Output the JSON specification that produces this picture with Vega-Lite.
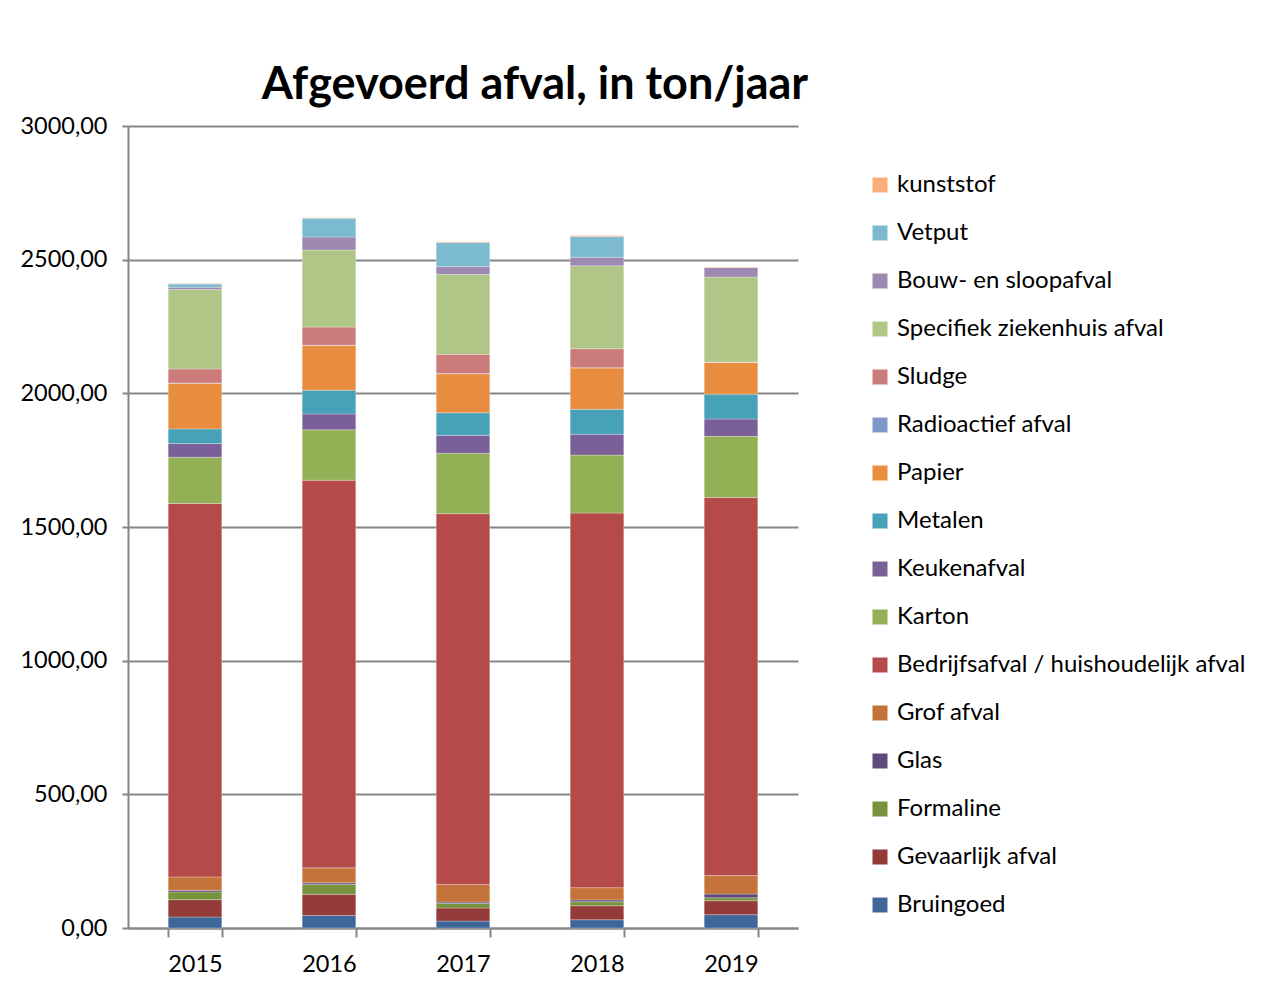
{
  "$schema": "https://vega.github.io/schema/vega-lite/v6.json",
  "width": 670,
  "height": 802,
  "autosize": {"type": "none"},
  "padding": {"left": 128, "top": 126, "right": 484, "bottom": 71},
  "background": "white",
  "config": {
    "locale": {"number": {"decimal": ",", "thousands": ".", "grouping": [3], "currency": ["€", ""]}},
    "font": "Lato",
    "view": {"stroke": null},
    "axis": {"labelFont": "Lato", "labelFontSize": 23.5, "labelColor": "#000000", "domainColor": "#868686", "tickColor": "#868686", "gridColor": "#868686", "domainWidth": 2, "tickWidth": 2, "gridWidth": 2}
  },
  "title": {
    "text": "Afgevoerd afval, in ton/jaar",
    "font": "Lato",
    "fontSize": 45,
    "fontWeight": "bold",
    "color": "#000000",
    "anchor": "middle",
    "frame": "group",
    "dx": 72,
    "offset": 6
  },
  "data": {
    "values": [
      {"jaar": "2015", "soort": "Bruingoed", "idx": 0, "ton": 41},
      {"jaar": "2015", "soort": "Gevaarlijk afval", "idx": 1, "ton": 65},
      {"jaar": "2015", "soort": "Formaline", "idx": 2, "ton": 29},
      {"jaar": "2015", "soort": "Glas", "idx": 3, "ton": 6},
      {"jaar": "2015", "soort": "Grof afval", "idx": 4, "ton": 50},
      {"jaar": "2015", "soort": "Bedrijfsafval / huishoudelijk afval", "idx": 5, "ton": 1397},
      {"jaar": "2015", "soort": "Karton", "idx": 6, "ton": 173},
      {"jaar": "2015", "soort": "Keukenafval", "idx": 7, "ton": 51},
      {"jaar": "2015", "soort": "Metalen", "idx": 8, "ton": 55},
      {"jaar": "2015", "soort": "Papier", "idx": 9, "ton": 171},
      {"jaar": "2015", "soort": "Radioactief afval", "idx": 10, "ton": 1},
      {"jaar": "2015", "soort": "Sludge", "idx": 11, "ton": 52},
      {"jaar": "2015", "soort": "Specifiek ziekenhuis afval", "idx": 12, "ton": 297},
      {"jaar": "2015", "soort": "Bouw- en sloopafval", "idx": 13, "ton": 9},
      {"jaar": "2015", "soort": "Vetput", "idx": 14, "ton": 12},
      {"jaar": "2015", "soort": "kunststof", "idx": 15, "ton": 2},

      {"jaar": "2016", "soort": "Bruingoed", "idx": 0, "ton": 47},
      {"jaar": "2016", "soort": "Gevaarlijk afval", "idx": 1, "ton": 79},
      {"jaar": "2016", "soort": "Formaline", "idx": 2, "ton": 37},
      {"jaar": "2016", "soort": "Glas", "idx": 3, "ton": 6},
      {"jaar": "2016", "soort": "Grof afval", "idx": 4, "ton": 56},
      {"jaar": "2016", "soort": "Bedrijfsafval / huishoudelijk afval", "idx": 5, "ton": 1450},
      {"jaar": "2016", "soort": "Karton", "idx": 6, "ton": 189},
      {"jaar": "2016", "soort": "Keukenafval", "idx": 7, "ton": 59},
      {"jaar": "2016", "soort": "Metalen", "idx": 8, "ton": 89},
      {"jaar": "2016", "soort": "Papier", "idx": 9, "ton": 167},
      {"jaar": "2016", "soort": "Radioactief afval", "idx": 10, "ton": 1},
      {"jaar": "2016", "soort": "Sludge", "idx": 11, "ton": 68},
      {"jaar": "2016", "soort": "Specifiek ziekenhuis afval", "idx": 12, "ton": 288},
      {"jaar": "2016", "soort": "Bouw- en sloopafval", "idx": 13, "ton": 49},
      {"jaar": "2016", "soort": "Vetput", "idx": 14, "ton": 70},
      {"jaar": "2016", "soort": "kunststof", "idx": 15, "ton": 2},

      {"jaar": "2017", "soort": "Bruingoed", "idx": 0, "ton": 26},
      {"jaar": "2017", "soort": "Gevaarlijk afval", "idx": 1, "ton": 49},
      {"jaar": "2017", "soort": "Formaline", "idx": 2, "ton": 17},
      {"jaar": "2017", "soort": "Glas", "idx": 3, "ton": 5},
      {"jaar": "2017", "soort": "Grof afval", "idx": 4, "ton": 66},
      {"jaar": "2017", "soort": "Bedrijfsafval / huishoudelijk afval", "idx": 5, "ton": 1387},
      {"jaar": "2017", "soort": "Karton", "idx": 6, "ton": 226},
      {"jaar": "2017", "soort": "Keukenafval", "idx": 7, "ton": 67},
      {"jaar": "2017", "soort": "Metalen", "idx": 8, "ton": 84},
      {"jaar": "2017", "soort": "Papier", "idx": 9, "ton": 146},
      {"jaar": "2017", "soort": "Radioactief afval", "idx": 10, "ton": 1},
      {"jaar": "2017", "soort": "Sludge", "idx": 11, "ton": 72},
      {"jaar": "2017", "soort": "Specifiek ziekenhuis afval", "idx": 12, "ton": 299},
      {"jaar": "2017", "soort": "Bouw- en sloopafval", "idx": 13, "ton": 29},
      {"jaar": "2017", "soort": "Vetput", "idx": 14, "ton": 90},
      {"jaar": "2017", "soort": "kunststof", "idx": 15, "ton": 3},

      {"jaar": "2018", "soort": "Bruingoed", "idx": 0, "ton": 31},
      {"jaar": "2018", "soort": "Gevaarlijk afval", "idx": 1, "ton": 52},
      {"jaar": "2018", "soort": "Formaline", "idx": 2, "ton": 15},
      {"jaar": "2018", "soort": "Glas", "idx": 3, "ton": 7},
      {"jaar": "2018", "soort": "Grof afval", "idx": 4, "ton": 46},
      {"jaar": "2018", "soort": "Bedrijfsafval / huishoudelijk afval", "idx": 5, "ton": 1401},
      {"jaar": "2018", "soort": "Karton", "idx": 6, "ton": 217},
      {"jaar": "2018", "soort": "Keukenafval", "idx": 7, "ton": 78},
      {"jaar": "2018", "soort": "Metalen", "idx": 8, "ton": 93},
      {"jaar": "2018", "soort": "Papier", "idx": 9, "ton": 155},
      {"jaar": "2018", "soort": "Radioactief afval", "idx": 10, "ton": 1},
      {"jaar": "2018", "soort": "Sludge", "idx": 11, "ton": 71},
      {"jaar": "2018", "soort": "Specifiek ziekenhuis afval", "idx": 12, "ton": 310},
      {"jaar": "2018", "soort": "Bouw- en sloopafval", "idx": 13, "ton": 32},
      {"jaar": "2018", "soort": "Vetput", "idx": 14, "ton": 78},
      {"jaar": "2018", "soort": "kunststof", "idx": 15, "ton": 3},

      {"jaar": "2019", "soort": "Bruingoed", "idx": 0, "ton": 50},
      {"jaar": "2019", "soort": "Gevaarlijk afval", "idx": 1, "ton": 52},
      {"jaar": "2019", "soort": "Formaline", "idx": 2, "ton": 11},
      {"jaar": "2019", "soort": "Glas", "idx": 3, "ton": 14},
      {"jaar": "2019", "soort": "Grof afval", "idx": 4, "ton": 69},
      {"jaar": "2019", "soort": "Bedrijfsafval / huishoudelijk afval", "idx": 5, "ton": 1414},
      {"jaar": "2019", "soort": "Karton", "idx": 6, "ton": 229},
      {"jaar": "2019", "soort": "Keukenafval", "idx": 7, "ton": 65},
      {"jaar": "2019", "soort": "Metalen", "idx": 8, "ton": 93},
      {"jaar": "2019", "soort": "Papier", "idx": 9, "ton": 119},
      {"jaar": "2019", "soort": "Radioactief afval", "idx": 10, "ton": 1},
      {"jaar": "2019", "soort": "Sludge", "idx": 11, "ton": 0},
      {"jaar": "2019", "soort": "Specifiek ziekenhuis afval", "idx": 12, "ton": 318},
      {"jaar": "2019", "soort": "Bouw- en sloopafval", "idx": 13, "ton": 36},
      {"jaar": "2019", "soort": "Vetput", "idx": 14, "ton": 0},
      {"jaar": "2019", "soort": "kunststof", "idx": 15, "ton": 2}
    ]
  },
  "mark": {"type": "bar", "stroke": "#ffffff", "strokeOpacity": 0.35, "strokeWidth": 0.8},
  "encoding": {
    "x": {
      "field": "jaar",
      "type": "ordinal",
      "scale": {"paddingInner": 0.6, "paddingOuter": 0.3},
      "axis": {"title": null, "labelAngle": 0, "bandPosition": 0, "tickSize": 9, "labelPadding": 15, "tickBand": "extent"}
    },
    "y": {
      "field": "ton",
      "type": "quantitative",
      "aggregate": "sum",
      "stack": "zero",
      "scale": {"domain": [0, 3000], "nice": false},
      "axis": {"title": null, "values": [0, 500, 1000, 1500, 2000, 2500, 3000], "format": ".2f", "tickSize": 6, "labelPadding": 15}
    },
    "order": {"field": "idx", "type": "quantitative", "sort": "ascending"},
    "color": {
      "field": "soort",
      "type": "nominal",
      "scale": {
        "domain": ["kunststof", "Vetput", "Bouw- en sloopafval", "Specifiek ziekenhuis afval", "Sludge", "Radioactief afval", "Papier", "Metalen", "Keukenafval", "Karton", "Bedrijfsafval / huishoudelijk afval", "Grof afval", "Glas", "Formaline", "Gevaarlijk afval", "Bruingoed"],
        "range": ["#F9AD79", "#7BBACF", "#9D89B2", "#AFC686", "#CB7B7A", "#7F9ACA", "#E88C3F", "#46A1B9", "#7A5F99", "#93B055", "#B54B49", "#C4743A", "#604A7B", "#77933C", "#943B3A", "#3E6699"]
      },
      "legend": {
        "title": null,
        "orient": "none",
        "legendX": 740,
        "legendY": 47,
        "symbolType": "square",
        "symbolSize": 225,
        "symbolStrokeWidth": 0,
        "labelFont": "Lato",
        "labelFontSize": 24,
        "labelColor": "#000000",
        "labelLimit": 500,
        "labelOffset": 5,
        "rowPadding": 24
      }
    }
  }
}
